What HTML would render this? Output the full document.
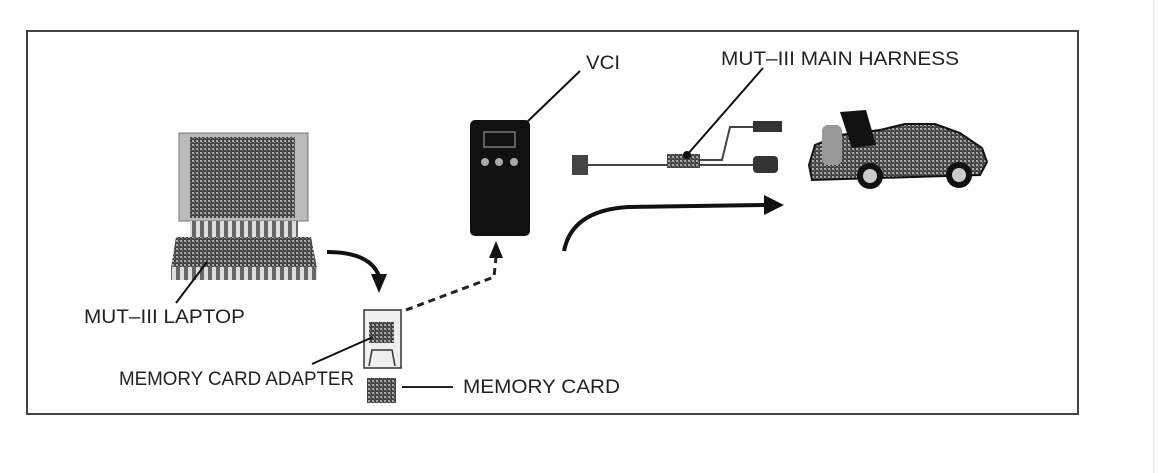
<!DOCTYPE html>
<html><head><style>
body{margin:0;background:#fff;}
svg{display:block;font-family:"Liberation Sans",sans-serif;}
</style></head><body>
<svg width="1173" height="473" viewBox="0 0 1173 473">
<defs>
<pattern id="dith" width="4" height="4" patternUnits="userSpaceOnUse"><rect width="4" height="4" fill="#444"/><rect width="2" height="2" fill="#aaa"/><rect x="2" y="2" width="1" height="1" fill="#888"/></pattern>
<pattern id="chk" width="8" height="8" patternUnits="userSpaceOnUse"><rect width="8" height="8" fill="#ddd"/><rect width="4" height="8" fill="#666"/></pattern>
</defs>
<line x1="1154" y1="0" x2="1154" y2="473" stroke="#eee" stroke-width="2"/>
<rect x="27" y="31" width="1051" height="383" fill="none" stroke="#444" stroke-width="2"/>
<!-- laptop -->
<rect x="179" y="133" width="129" height="88" fill="#bbb" stroke="#777"/>
<rect x="190" y="137" width="105" height="81" fill="url(#dith)"/>
<rect x="190" y="221" width="108" height="16" fill="url(#chk)"/>
<polygon points="176,237 311,237 317,268 171,268" fill="url(#dith)"/>
<rect x="171" y="267" width="146" height="13" fill="url(#chk)"/>
<line x1="207" y1="262" x2="176" y2="303" stroke="#111" stroke-width="2"/>
<text x="84" y="323" font-size="19" textLength="161" lengthAdjust="spacingAndGlyphs" fill="#222">MUT–III LAPTOP</text>
<!-- laptop arrow -->
<path d="M327 252 Q370 252 379 276" fill="none" stroke="#111" stroke-width="4"/>
<polygon points="371,274 387,274 379,293" fill="#111"/>
<!-- VCI -->
<rect x="470" y="120" width="60" height="116" rx="5" fill="#111"/>
<rect x="484" y="132" width="31" height="15" fill="none" stroke="#777" stroke-width="1.5"/>
<circle cx="485" cy="162" r="4" fill="#aaa"/><circle cx="499" cy="162" r="4" fill="#aaa"/><circle cx="514" cy="162" r="4" fill="#aaa"/>
<line x1="580" y1="71" x2="527" y2="122" stroke="#111" stroke-width="2"/>
<text x="586" y="69" font-size="19" textLength="34" lengthAdjust="spacingAndGlyphs" fill="#222">VCI</text>
<!-- dashed -->
<path d="M406 310 L494 277 L496 257" fill="none" stroke="#222" stroke-width="3" stroke-dasharray="7,5"/>
<polygon points="489,258 503,258 496,241" fill="#111"/>
<!-- adapter -->
<rect x="364" y="310" width="37" height="58" fill="#eee" stroke="#333" stroke-width="1.5"/>
<rect x="369" y="322" width="25" height="21" fill="url(#dith)"/>
<path d="M369 366 L372 350 L392 350 L395 366" fill="none" stroke="#333" stroke-width="1.5"/>
<line x1="373" y1="337" x2="312" y2="364" stroke="#111" stroke-width="2"/>
<text x="119" y="385" font-size="19" textLength="235" lengthAdjust="spacingAndGlyphs" fill="#222">MEMORY CARD ADAPTER</text>
<rect x="367" y="378" width="29" height="25" fill="url(#dith)"/>
<line x1="402" y1="387" x2="453" y2="387" stroke="#222" stroke-width="2"/>
<text x="463" y="393" font-size="19" textLength="157" lengthAdjust="spacingAndGlyphs" fill="#222">MEMORY CARD</text>
<!-- harness -->
<rect x="572" y="155" width="16" height="20" fill="#444"/>
<line x1="588" y1="165" x2="667" y2="165" stroke="#444" stroke-width="2"/>
<rect x="667" y="154" width="33" height="14" fill="url(#dith)"/>
<circle cx="687" cy="155" r="4" fill="#111"/>
<path d="M700 160 L722 160 L730 127 L755 127" fill="none" stroke="#444" stroke-width="2"/>
<rect x="753" y="121" width="29" height="11" fill="#333"/>
<path d="M700 165 L755 165" fill="none" stroke="#444" stroke-width="2"/>
<rect x="753" y="156" width="25" height="17" rx="4" fill="#333"/>
<line x1="763" y1="68" x2="687" y2="155" stroke="#111" stroke-width="2"/>
<text x="721" y="65" font-size="19" textLength="238" lengthAdjust="spacingAndGlyphs" fill="#222">MUT–III MAIN HARNESS</text>
<!-- car -->
<polygon points="809,165 815,145 840,135 880,130 905,124 935,124 960,133 982,148 987,162 980,175 812,180" fill="url(#dith)" stroke="#111" stroke-width="2"/>
<polygon points="840,112 866,110 876,145 852,148" fill="#111"/>
<rect x="822" y="125" width="20" height="40" rx="6" fill="#999"/>
<circle cx="870" cy="176" r="13" fill="#111"/><circle cx="870" cy="176" r="7" fill="#ccc"/>
<circle cx="959" cy="175" r="13" fill="#111"/><circle cx="959" cy="175" r="7" fill="#ccc"/>
<!-- big arrow -->
<path d="M564 251 Q572 210 629 207 L767 205" fill="none" stroke="#111" stroke-width="4"/>
<polygon points="764,195 784,205 764,215" fill="#111"/>
</svg>
</body></html>
